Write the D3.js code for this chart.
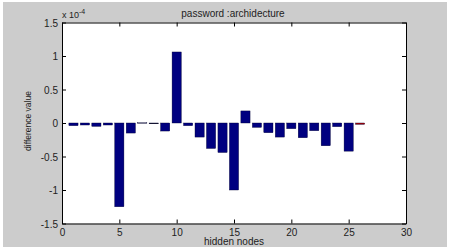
<!DOCTYPE html>
<html>
<head>
<meta charset="utf-8">
<script src="https://cdn.jsdelivr.net/npm/d3@7"></script>
<style>
  html, body { margin: 0; padding: 0; background: #ffffff; }
  svg { display: block; }
  text { font-family: "Liberation Sans", Arial, sans-serif; fill: #222; }
</style>
</head>
<body>
<svg id="chart" width="450" height="250"></svg>
<script>
const nodes = [1,2,3,4,5,6,7,8,9,10,11,12,13,14,15,16,17,18,19,20,21,22,23,24,25,26];
const values = [-0.04,-0.03,-0.05,-0.03,-1.25,-0.15,0.005,-0.01,-0.12,1.06,-0.04,-0.21,-0.38,-0.44,-1.00,0.18,-0.065,-0.145,-0.21,-0.085,-0.22,-0.115,-0.34,-0.055,-0.42,-0.02];
const barColors = ["#000080","#000080","#000080","#000080","#000080","#000080","#9a9aa8","#000000","#000080","#000080","#000080","#000080","#000080","#000080","#000080","#000080","#000080","#000080","#000080","#000080","#000080","#000080","#000080","#000080","#000080","#b00000"];
const xTicks = [0,5,10,15,20,25,30];
const yTicks = [-1.5,-1,-0.5,0,0.5,1,1.5];
const title = "password :archidecture";
const xLabel = "hidden nodes";
const yLabel = "difference value";

const svg = d3.select("#chart");
svg.append("rect").attr("x",3).attr("y",2).attr("width",444).attr("height",245).attr("fill","#cccccc");

const L = 62, R = 406, T = 22.5, B = 223.5;
const x = d3.scaleLinear().domain([0,30]).range([L,R]);
const y = d3.scaleLinear().domain([-1.5,1.5]).range([B,T]);

svg.append("rect").attr("x",L).attr("y",T).attr("width",R-L).attr("height",B-T).attr("fill","#ffffff");

// bars
svg.append("g").selectAll("rect").data(nodes).join("rect")
  .attr("x", d => x(d-0.4))
  .attr("width", d => x(d+0.4)-x(d-0.4))
  .attr("y", (d,i) => y(Math.max(0, values[i])))
  .attr("height", (d,i) => Math.max(0.8, Math.abs(y(values[i]) - y(0))))
  .attr("fill", (d,i) => barColors[i])
  .attr("stroke", "#000033")
  .attr("stroke-width", 0.4);

// axes
const fmt = d => String(d);
const xb = svg.append("g").attr("transform", `translate(0,${B})`)
  .call(d3.axisBottom(x).tickValues(xTicks).tickFormat(fmt).tickSizeInner(-4).tickSizeOuter(0).tickPadding(3));
const xt = svg.append("g").attr("transform", `translate(0,${T})`)
  .call(d3.axisTop(x).tickValues(xTicks).tickFormat("").tickSizeInner(-4).tickSizeOuter(0));
const yl = svg.append("g").attr("transform", `translate(${L},0)`)
  .call(d3.axisLeft(y).tickValues(yTicks).tickFormat(fmt).tickSizeInner(-4).tickSizeOuter(0).tickPadding(4));
const yr = svg.append("g").attr("transform", `translate(${R},0)`)
  .call(d3.axisRight(y).tickValues(yTicks).tickFormat("").tickSizeInner(-4).tickSizeOuter(0));
[xb,xt,yl,yr].forEach(g => {
  g.selectAll("path").attr("stroke","#000").attr("stroke-width",1);
  g.selectAll("line").attr("stroke","#000").attr("stroke-width",1);
  g.selectAll("text").style("font-size","10px").attr("fill","#222").style("font-family","'Liberation Sans', Arial, sans-serif");
});
xb.selectAll("text").attr("dy","0.9em");
yl.selectAll("text").attr("dy","0.35em");

// exponent
const ex = svg.append("text").attr("x", L).attr("y", 18).style("font-size","9px");
ex.append("tspan").text("x 10");
ex.append("tspan").attr("dy",-4).style("font-size","7px").text("-4");

// title
svg.append("text").attr("x", 233).attr("y", 17).attr("text-anchor","middle").style("font-size","10px").text(title);
// x label
svg.append("text").attr("x", 234).attr("y", 245).attr("text-anchor","middle").style("font-size","10px").text(xLabel);
// y label
svg.append("text").attr("transform", `translate(31,121) rotate(-90)`).attr("text-anchor","middle").style("font-size","8.5px").text(yLabel);
</script>
</body>
</html>
